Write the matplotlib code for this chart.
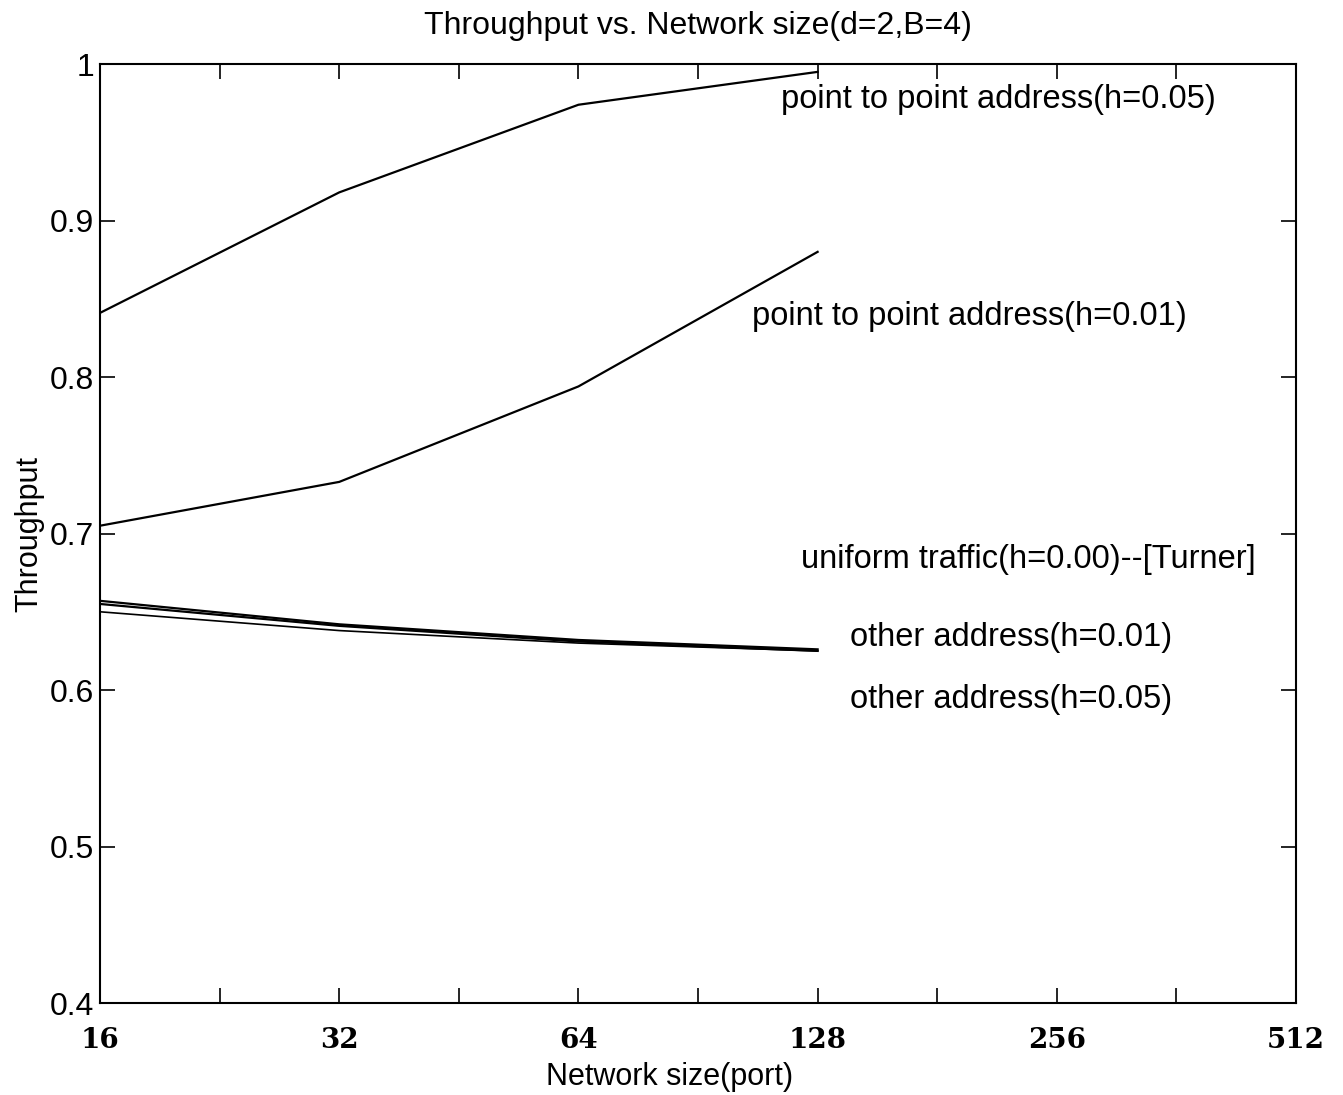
import numpy as np
import matplotlib
matplotlib.use('Agg')
import matplotlib.pyplot as plt
import matplotlib.font_manager as fm

# 폰트: 좁은 Arial 계열이 있으면 사용
available = {f.name for f in fm.fontManager.ttflist}
SANS = 'Liberation Sans Narrow' if 'Liberation Sans Narrow' in available else 'Liberation Sans'
plt.rcParams['font.family'] = [SANS, 'DejaVu Sans']

# ── data ────────────────────────────────────────────
ports = [16, 32, 64, 128]
p2p_h005 = [0.841, 0.918, 0.974, 0.995]
p2p_h001 = [0.705, 0.733, 0.794, 0.880]
uniform_h000 = [0.657, 0.642, 0.632, 0.626]
other_h001 = [0.655, 0.641, 0.631, 0.625]
other_h005 = [0.650, 0.638, 0.630, 0.625]

xticks = [16, 32, 64, 128, 256, 512]
yticks = [0.4, 0.5, 0.6, 0.7, 0.8, 0.9, 1.0]
ytick_labels = ['0.4', '0.5', '0.6', '0.7', '0.8', '0.9', '1']

curve_labels = [
    'point to point address(h=0.05)',
    'point to point address(h=0.01)',
    'uniform traffic(h=0.00)--[Turner]',
    'other address(h=0.01)',
    'other address(h=0.05)',
]
# 라벨 위치 (axes 비율 좌표)
label_pos = [(0.751, 0.962), (0.727, 0.731), (0.776, 0.472),
             (0.762, 0.389), (0.762, 0.323)]

# ── figure ──────────────────────────────────────────
fig = plt.figure(figsize=(13.43, 10.95), dpi=100)
ax = fig.add_axes([0.0745, 0.084, 0.8905, 0.8575])

ax.plot(ports, p2p_h005, color='black', lw=1.6)
ax.plot(ports, p2p_h001, color='black', lw=1.6)
ax.plot(ports, uniform_h000, color='black', lw=1.6)
ax.plot(ports, other_h001, color='black', lw=1.6)
ax.plot(ports, other_h005, color='black', lw=1.2)

ax.set_xscale('log', base=2)
ax.set_xlim(16, 512)
ax.set_ylim(0.4, 1.0)

ax.set_xticks(xticks)
ax.set_xticklabels([str(v) for v in xticks], family='DejaVu Serif',
                   fontweight='bold', fontsize=20)
minor = [np.sqrt(a * b) for a, b in zip(xticks[:-1], xticks[1:])]
ax.set_xticks(minor, minor=True)
ax.xaxis.set_minor_formatter(matplotlib.ticker.NullFormatter())

ax.set_yticks(yticks)
ax.set_yticklabels(ytick_labels, fontsize=23)

ax.tick_params(axis='both', which='both', direction='in', length=11,
               width=1.2, top=True, right=True)
ax.tick_params(axis='x', which='major', pad=17)
ax.tick_params(axis='y', pad=4)

for sp in ax.spines.values():
    sp.set_linewidth(1.5)

for txt, (xf, yf) in zip(curve_labels, label_pos):
    ax.text(xf, yf, txt, transform=ax.transAxes, ha='center', va='center',
            fontsize=23.5)

ax.set_title('Throughput vs. Network size(d=2,B=4)', fontsize=23, pad=22)
ax.set_xlabel('Network size(port)', fontsize=22)
ax.xaxis.set_label_coords(0.476, -0.063)
ax.set_ylabel('Throughput', fontsize=22, labelpad=4)

fig.savefig('out.png', dpi=100)
